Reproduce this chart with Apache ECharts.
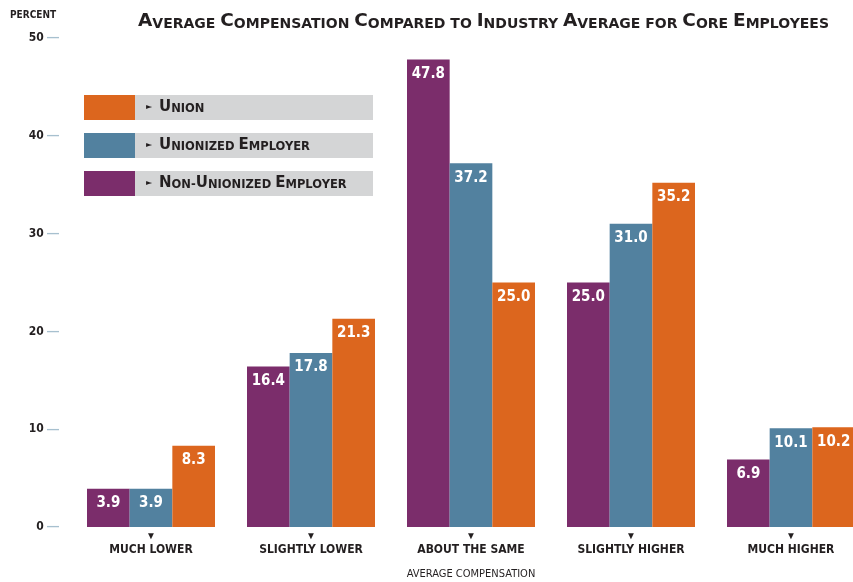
<!DOCTYPE html>
<html>
<head>
<meta charset="utf-8">
<script src="https://cdn.jsdelivr.net/npm/echarts@6/dist/echarts.min.js"></script>
<style>
  html, body { margin: 0; padding: 0; background: #fff; }
  #chart { width: 853px; height: 582px; }
</style>
</head>
<body>
<div id="chart"></div>
<script>
// Compensation levels relative to industry average
const categories = ['MUCH LOWER', 'SLIGHTLY LOWER', 'ABOUT THE SAME', 'SLIGHTLY HIGHER', 'MUCH HIGHER'];
const nonUnionizedEmployer = [3.9, 16.4, 47.8, 25.0, 6.9];
const unionizedEmployer = [3.9, 17.8, 37.2, 31.0, 10.1];
const union = [8.3, 21.3, 25.0, 35.2, 10.2];
const seriesNames = ['Non-Unionized Employer', 'Unionized Employer', 'Union'];
const seriesColors = ['#7B2D6B', '#52819F', '#DC661E'];
const yTicks = [0, 10, 20, 30, 40, 50];

const FONT = '"DejaVu Sans Condensed", "DejaVu Sans", sans-serif';
const CAPS_FONT = '"DejaVu Sans", sans-serif';

// Small-caps text built from rich segments: capitals larger, the rest uppercase and smaller
function smallCaps(text, bigKey, smallKey) {
  let out = '';
  let cur = '', curKey = null;
  for (const ch of text) {
    const key = (ch >= 'A' && ch <= 'Z') ? bigKey : smallKey;
    if (key !== curKey && cur) { out += '{' + curKey + '|' + cur + '}'; cur = ''; }
    curKey = key;
    cur += ch.toUpperCase();
  }
  if (cur) out += '{' + curKey + '|' + cur + '}';
  return out;
}

const chart = echarts.init(document.getElementById('chart'), null, { renderer: 'canvas' });

const barLabel = {
  show: true,
  position: 'insideTop',
  distance: 7,
  color: '#ffffff',
  fontFamily: FONT,
  fontWeight: 'bold',
  fontSize: 15,
  formatter: p => p.value.toFixed(1)
};

const dataSets = [nonUnionizedEmployer, unionizedEmployer, union];

// Legend boxes, listed top to bottom in reverse series order
const legendGraphics = [];
const legendOrder = [2, 1, 0];
legendOrder.forEach((si, i) => {
  const y = 95 + i * 38;
  legendGraphics.push({
    type: 'rect', left: 84, top: y,
    shape: { width: 51, height: 25 },
    style: { fill: seriesColors[si] }
  });
  legendGraphics.push({
    type: 'rect', left: 135, top: y,
    shape: { width: 238, height: 25 },
    style: { fill: '#D4D5D6' }
  });
  legendGraphics.push({
    type: 'text', left: 146, top: y + 8,
    style: { text: '►', fontSize: 8, fill: '#231f20', fontFamily: CAPS_FONT }
  });
  legendGraphics.push({
    type: 'text', left: 159, top: y + 5,
    style: {
      text: smallCaps(seriesNames[si], 'b', 's'),
      rich: {
        b: { fontSize: 15, fontWeight: 'bold', fill: '#231f20', fontFamily: CAPS_FONT, verticalAlign: 'bottom', lineHeight: 16 },
        s: { fontSize: 11.5, fontWeight: 'bold', fill: '#231f20', fontFamily: CAPS_FONT, verticalAlign: 'bottom', lineHeight: 16 }
      }
    }
  });
});

chart.setOption({
  animation: false,
  backgroundColor: '#ffffff',
  title: {
    text: smallCaps('Average Compensation Compared to Industry Average for Core Employees', 'b', 's'),
    left: 133,
    top: 6,
    textStyle: {
      rich: {
        b: { fontSize: 18.5, fontWeight: 'bold', color: '#231f20', fontFamily: CAPS_FONT, verticalAlign: 'bottom', lineHeight: 20 },
        s: { fontSize: 14, fontWeight: 'bold', color: '#231f20', fontFamily: CAPS_FONT, verticalAlign: 'bottom', lineHeight: 20 }
      }
    }
  },
  grid: { left: 71, top: 38, width: 800, height: 489, outerBoundsMode: 'none', containLabel: false },
  xAxis: {
    type: 'category',
    data: categories,
    name: 'AVERAGE COMPENSATION',
    nameLocation: 'middle',
    nameGap: 42,
    nameTextStyle: { fontFamily: FONT, fontSize: 11, color: '#231f20' },
    axisLine: { show: false },
    axisTick: { show: false },
    axisLabel: {
      margin: 3,
      interval: 0,
      formatter: v => '{t|▼}\n{c|' + v + '}',
      rich: {
        t: { fontSize: 10, color: '#231f20', lineHeight: 12, align: 'center' },
        c: { fontFamily: FONT, fontWeight: 'bold', fontSize: 12, color: '#231f20', lineHeight: 15, align: 'center' }
      }
    }
  },
  yAxis: {
    type: 'value',
    min: 0,
    max: 50,
    interval: 10,
    name: 'PERCENT',
    nameLocation: 'end',
    nameGap: 18,
    nameTextStyle: { fontFamily: FONT, fontSize: 10, fontWeight: 'bold', color: '#231f20', align: 'left', padding: [0, 0, 0, -61] },
    axisLine: { show: false },
    axisTick: { show: false },
    splitLine: { show: false },
    axisLabel: {
      margin: 12,
      formatter: v => yTicks.includes(v) ? '{n|' + v + '}{d| —}' : '',
      rich: {
        n: { fontFamily: FONT, fontWeight: 'bold', fontSize: 12, color: '#231f20' },
        d: { fontSize: 12, fontWeight: 'bold', color: '#A7C0CF' }
      }
    }
  },
  series: seriesNames.map((name, i) => ({
    name,
    type: 'bar',
    data: dataSets[i],
    barGap: '0%',
    barCategoryGap: '20%',
    itemStyle: { color: seriesColors[i] },
    label: barLabel
  })),
  graphic: legendGraphics
});
</script>
</body>
</html>
